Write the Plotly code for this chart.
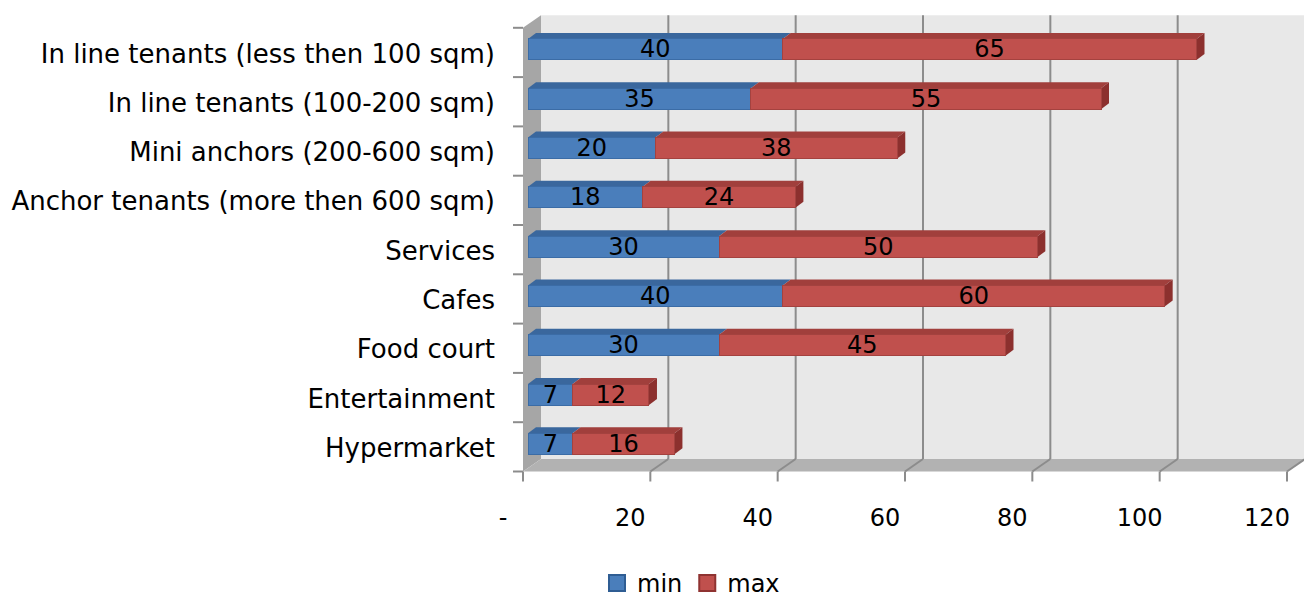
import plotly.graph_objects as go

# Rent ranges per tenant type (top-to-bottom order as listed in the chart)
categories = [
    "In line tenants (less then 100 sqm)",
    "In line tenants (100-200 sqm)",
    "Mini anchors (200-600 sqm)",
    "Anchor tenants (more then 600 sqm)",
    "Services",
    "Cafes",
    "Food court",
    "Entertainment",
    "Hypermarket",
]
min_vals = [40, 35, 20, 18, 30, 40, 30, 7, 7]
max_vals = [65, 55, 38, 24, 50, 60, 45, 12, 16]

x_ticks = [0, 20, 40, 60, 80, 100, 120]
x_tick_labels = ["-", "20", "40", "60", "80", "100", "120"]

# ---- page / plot geometry (pixels) ----
W, H = 1304, 599
PL, PR, PT, PB = 500, 1304, 5, 485       # plot-area box
KX = 764 / 120                            # px per x unit
KY = 49.3                                 # px per category
X0 = 528                                  # px of x = 0 on the bar plane
Y0 = 471.5 - 0.5 * KY - 3                 # px of lowest bar centre

x_range = [(PL - X0) / KX, (PR - X0) / KX]
y_range = [(Y0 - PB) / KY, (Y0 - PT) / KY]

# depth offsets converted to data units (right / up)
FX, FY = -5 / KX, -3 / KY          # front plane relative to bars
BX, BY = 13 / KX, 9.5 / KY         # back wall relative to bars
DX, DY = 8 / KX, 6 / KY            # bar thickness (top / side faces)
BAR_W = 21 / KY

n = len(categories)
# bottom-first order for the numeric category axis
cats_b = categories[::-1]
mins_b = min_vals[::-1]
maxs_b = max_vals[::-1]
ypos = list(range(n))
xmax = x_ticks[-1]

BLUE, BLUE_TOP, BLUE_EDGE = "#4a7ebb", "#3a679d", "#3b6ca6"
RED, RED_TOP, RED_SIDE, RED_EDGE = "#c0504d", "#a13f3c", "#8c302e", "#a4423f"
GRID = "#8c8c8c"
FONT = "DejaVu Sans"


def poly(pts, fill, line_color=None, width=0):
    path = "M " + " L ".join(f"{x},{y}" for x, y in pts) + " Z"
    return dict(type="path", xref="x", yref="y", path=path, fillcolor=fill,
                line=dict(color=line_color or fill, width=width), layer="below")


def seg(x0, y0, x1, y1, color=GRID, width=2):
    return dict(type="line", xref="x", yref="y", x0=x0, y0=y0, x1=x1, y1=y1,
                line=dict(color=color, width=width), layer="below")


shapes = []
yb_front, yt_front = -0.5 + FY, n - 0.5 + FY
yb_back, yt_back = -0.5 + BY, n - 0.5 + BY

# back wall
shapes.append(poly([(BX, yb_back), (xmax + BX, yb_back), (xmax + BX, yt_back), (BX, yt_back)], "#e8e8e8"))
# left wall
shapes.append(poly([(FX, yb_front), (FX, yt_front), (BX, yt_back), (BX, yb_back)], "#a6a6a6"))
# floor
shapes.append(poly([(FX, yb_front), (xmax + FX, yb_front), (xmax + BX, yb_back), (BX, yb_back)], "#b2b2b2"))

# gridlines on back wall and floor
for v in x_ticks[1:]:
    shapes.append(seg(v + BX, yb_back, v + BX, yt_back))
    shapes.append(seg(v + BX, yb_back, v + FX, yb_front))

# tick marks on the front edges
for v in x_ticks:
    shapes.append(seg(v + FX, yb_front, v + FX, yb_front - 10 / KY))
for j in range(n + 1):
    shapes.append(seg(FX - 10 / KX, j - 0.5 + FY, FX, j - 0.5 + FY))

# 3-D faces of the stacked bars
h = BAR_W / 2
for y, a, b in zip(ypos, mins_b, maxs_b):
    top = y + h
    shapes.append(poly([(0, top), (a, top), (a + DX, top + DY), (DX, top + DY)], BLUE_TOP))
    shapes.append(poly([(a, top), (a + b, top), (a + b + DX, top + DY), (a + DX, top + DY)], RED_TOP))
    end = a + b
    shapes.append(poly([(end, y - h), (end, top), (end + DX, top + DY), (end + DX, y - h + DY)], RED_SIDE))

label_font = dict(family=FONT, size=24, color="black")

fig = go.Figure()
fig.add_trace(go.Bar(
    y=ypos, x=mins_b, orientation="h", width=BAR_W, name="min",
    marker=dict(color=BLUE, line=dict(color=BLUE_EDGE, width=1)),
    texttemplate="%{x}", textposition="inside", insidetextanchor="middle",
    textangle=0, constraintext="none", textfont=label_font,
    showlegend=False, hoverinfo="skip",
))
fig.add_trace(go.Bar(
    y=ypos, x=maxs_b, orientation="h", width=BAR_W, name="max",
    marker=dict(color=RED, line=dict(color=RED_EDGE, width=1)),
    texttemplate="%{x}", textposition="inside", insidetextanchor="middle",
    textangle=0, constraintext="none", textfont=label_font,
    showlegend=False, hoverinfo="skip",
))
# legend entries with square swatches
for name, col, edge in [("min", BLUE, "#2f5d93"), ("max", RED, "#8f3331")]:
    fig.add_trace(go.Scatter(
        x=[None], y=[None], mode="markers", name=name,
        marker=dict(symbol="square", size=16, color=col, line=dict(color=edge, width=2)),
    ))

fig.update_layout(
    width=W, height=H,
    margin=dict(l=PL, r=W - PR, t=PT, b=H - PB, pad=0, autoexpand=False),
    barmode="stack",
    paper_bgcolor="white", plot_bgcolor="white",
    shapes=shapes,
    font=dict(family=FONT, color="black"),
    legend=dict(orientation="h", x=(691 - PL) / (PR - PL), xanchor="center",
                y=(PB - 606) / (PB - PT), yanchor="bottom", traceorder="normal",
                font=dict(family=FONT, size=24, color="black"),
                itemwidth=30, tracegroupgap=0, bgcolor="rgba(0,0,0,0)"),
    xaxis=dict(range=x_range, showgrid=False, zeroline=False, showline=False,
               tickmode="array", tickvals=x_ticks, ticktext=x_tick_labels,
               ticks="", ticklabelshift=-25, ticklabelstandoff=16,
               tickfont=dict(family=FONT, size=24, color="black"), fixedrange=True),
    yaxis=dict(range=y_range, showgrid=False, zeroline=False, showline=False,
               tickmode="array", tickvals=ypos, ticktext=cats_b,
               ticks="", ticklabelshift=4, ticklabelstandoff=4,
               tickfont=dict(family=FONT, size=26, color="black"), fixedrange=True),
)

fig.write_html("out.html")
